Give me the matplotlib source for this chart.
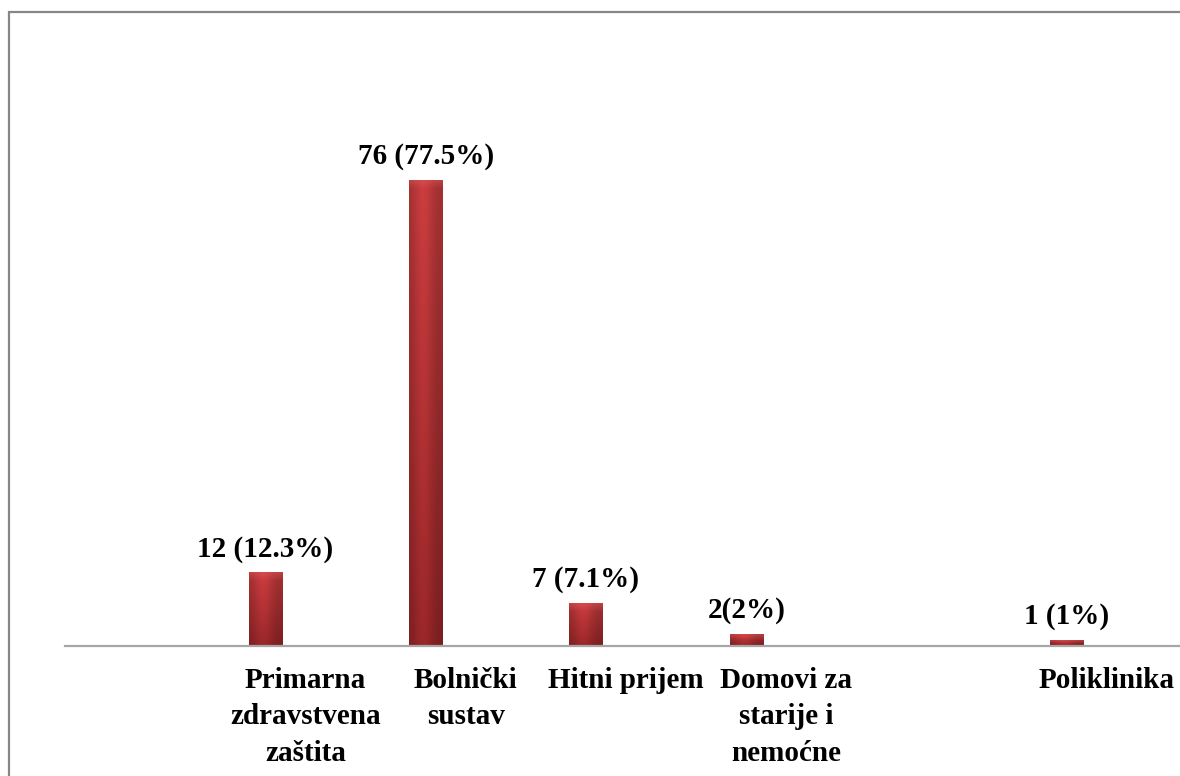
import numpy as np
import matplotlib
matplotlib.use("Agg")
import matplotlib.pyplot as plt
from matplotlib.patches import Rectangle

categories = ["", "Primarna\nzdravstvena\nzaštita", "Bolnički\nsustav", "Hitni prijem",
              "Domovi za\nstarije i\nnemoćne", "", "Poliklinika"]
values = [0, 12, 76, 7, 2, 0, 1]
value_labels = ["", "12 (12.3%)", "76 (77.5%)", "7 (7.1%)", "2(2%)", "", "1 (1%)"]

W, H, DPI = 1180, 776, 100
fig = plt.figure(figsize=(W / DPI, H / DPI), dpi=DPI)
fig.patch.set_facecolor("white")

# outer frame (cropped on right/bottom)
fig.patches.append(Rectangle((9 / W, -0.1), 1.2, (H - 12) / H + 0.1, transform=fig.transFigure,
                             fill=False, edgecolor="#878787", linewidth=1.6, zorder=0))

ax_left, ax_bottom, ax_top = 65, 646, 60
ax_w = 1122
ax = fig.add_axes([ax_left / W, (H - ax_bottom) / H, ax_w / W, (ax_bottom - ax_top) / H])
ax.set_facecolor("none")
x = np.arange(len(categories))
ax.set_xlim(-0.5, len(categories) - 0.5)
ax.set_ylim(0, (ax_bottom - ax_top) / 6.13)

offset, width = -0.25, 0.206
bars = ax.bar(x + offset, values, width=width, color="#a3282b", zorder=2)

# gradient fill for bars
def bar_img(h_px):
    h = max(int(h_px), 2)
    w = 40
    t = np.linspace(0, 1, h)[:, None]
    top = np.array([200, 60, 62]) / 255
    bot = np.array([152, 38, 40]) / 255
    base = top[None, None, :] * (1 - t[..., None]) + bot[None, None, :] * t[..., None]
    u = np.linspace(0, 1, w)[None, :]
    horiz = 0.80 + 0.22 * np.exp(-((u - 0.42) / 0.3) ** 2)
    img = base * horiz[..., None]
    bev = min(8, h // 2)
    for i in range(bev):
        f = 1.0 - i / bev
        img[i] = img[i] * (1 - 0.35 * f) + np.array([230, 100, 100]) / 255 * 0.35 * f
    return np.clip(img, 0, 1)

for b, v in zip(bars, values):
    if v <= 0:
        continue
    x0, w_ = b.get_x(), b.get_width()
    hpx = v * 6.13
    im = ax.imshow(bar_img(hpx), extent=(x0, x0 + w_, 0, v), aspect="auto",
                   interpolation="bilinear", zorder=3)
    im.set_clip_path(b)
    ax.set_xlim(-0.5, len(categories) - 0.5)
    ax.set_ylim(0, (ax_bottom - ax_top) / 6.13)

for b, v, lab in zip(bars, values, value_labels):
    if not lab:
        continue
    ax.annotate(lab, (b.get_x() + b.get_width() / 2, v), xytext=(0, 7),
                textcoords="offset points", ha="center", va="bottom",
                fontsize=21, fontweight="bold", family="Liberation Serif", color="black")

ax.set_xticks(x)
ax.set_xticklabels(categories, fontsize=21, fontweight="bold", family="Liberation Serif",
                   linespacing=1.45, va="top", ha="center")
ax.tick_params(axis="x", length=0, pad=15)
ax.set_yticks([])
for s in ["top", "right", "left"]:
    ax.spines[s].set_visible(False)
ax.spines["bottom"].set_color("#a6a6a6")
ax.spines["bottom"].set_linewidth(1.6)
ax.spines["bottom"].set_zorder(4)

fig.savefig("out.png", dpi=DPI)
